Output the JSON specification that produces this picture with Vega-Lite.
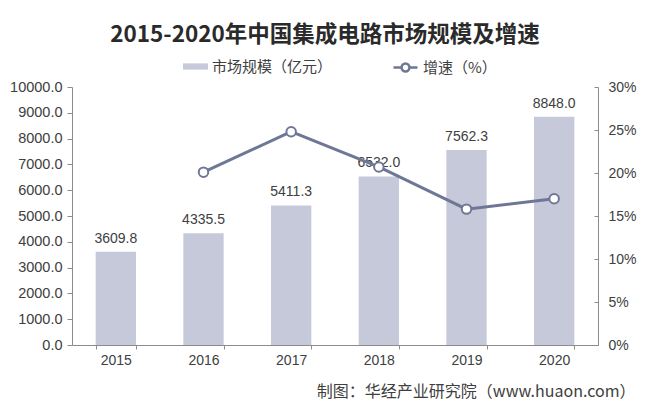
{
  "$schema": "https://vega.github.io/schema/vega-lite/v6.json",
  "autosize": "none",
  "width": 526,
  "height": 258,
  "padding": {"left": 72, "top": 87, "right": 52, "bottom": 66},
  "background": "white",
  "config": {
    "view": {"stroke": null},
    "font": "Liberation Sans",
    "axis": {"labelFont": "Liberation Sans", "labelColor": "#404040", "labelFontSize": 14, "domainColor": "#8c8c8c", "tickColor": "#8c8c8c", "grid": false, "labelOverlap": false},
    "legend": {"labelFont": "Noto Sans CJK SC", "labelFontSize": 15, "labelColor": "#404040"}
  },
  "title": {
    "text": "2015-2020年中国集成电路市场规模及增速",
    "font": "Noto Sans CJK SC",
    "fontSize": 22.5,
    "fontWeight": "bold",
    "color": "#2a2a2a",
    "anchor": "middle",
    "dx": -10,
    "offset": 8
  },
  "data": {
    "values": [
      {"year": "2015", "size": 3609.8, "growth": null},
      {"year": "2016", "size": 4335.5, "growth": 0.201},
      {"year": "2017", "size": 5411.3, "growth": 0.248},
      {"year": "2018", "size": 6532.0, "growth": 0.207},
      {"year": "2019", "size": 7562.3, "growth": 0.158},
      {"year": "2020", "size": 8848.0, "growth": 0.170}
    ]
  },
  "encoding": {
    "x": {
      "field": "year",
      "type": "ordinal",
      "scale": {"paddingInner": 0.54, "paddingOuter": 0.27},
      "axis": {
        "labelAngle": 0,
        "tickBand": "extent",
        "tickSize": 4,
        "labelPadding": 4,
        "title": "制图：华经产业研究院（www.huaon.com）",
        "titleFont": "Noto Sans CJK SC",
        "titleFontSize": 16,
        "titleFontWeight": "normal",
        "titleColor": "#404040",
        "titleX": 563,
        "titleY": 51,
        "titleAlign": "right",
        "titleBaseline": "alphabetic"
      }
    }
  },
  "layer": [
    {
      "encoding": {
        "y": {
          "field": "size",
          "type": "quantitative",
          "scale": {"domain": [0, 10000], "nice": false},
          "axis": {"title": null, "format": ".1f", "values": [0,1000,2000,3000,4000,5000,6000,7000,8000,9000,10000], "tickSize": 5, "labelPadding": 5, "labelFontSize": 14.5}
        }
      },
      "layer": [
        {
          "mark": {"type": "bar"},
          "encoding": {
            "fill": {
              "datum": "市场规模（亿元）",
              "scale": {"range": ["#c6c9da"]},
              "legend": {
                "title": null,
                "orient": "none",
                "legendX": 111,
                "legendY": -33,
                "symbolType": "M-1,-0.25H1V0.25H-1Z",
                "symbolSize": 625,
                "symbolStrokeWidth": 0
              }
            }
          }
        },
        {
          "mark": {"type": "text", "dy": -13, "fontSize": 14, "color": "#404040", "font": "Liberation Sans"},
          "encoding": {
            "text": {"field": "size", "type": "quantitative", "format": ".1f"}
          }
        }
      ]
    },
    {
      "encoding": {
        "y": {
          "field": "growth",
          "type": "quantitative",
          "scale": {"domain": [0, 0.3], "nice": false},
          "axis": {"title": null, "orient": "right", "format": ".0%", "values": [0,0.05,0.1,0.15,0.2,0.25,0.3], "tickSize": -4, "labelPadding": 14}
        },
        "stroke": {
          "datum": "增速（%）",
          "scale": {"range": ["#6f7797"]},
          "legend": {
            "title": null,
            "orient": "none",
            "legendX": 320,
            "legendY": -33,
            "symbolType": "M-1,0H-0.33M0.33,0H1M0.33,0A0.33,0.33,0,1,1,-0.33,0A0.33,0.33,0,1,1,0.33,0Z",
            "symbolSize": 576,
            "symbolFillColor": "white",
            "symbolStrokeWidth": 2.5
          }
        }
      },
      "layer": [
        {
          "mark": {"type": "line", "strokeWidth": 3}
        },
        {
          "mark": {"type": "point", "filled": false, "fill": "white", "fillOpacity": 1, "size": 90, "strokeWidth": 2, "opacity": 1}
        }
      ]
    }
  ],
  "resolve": {"scale": {"y": "independent"}}
}
